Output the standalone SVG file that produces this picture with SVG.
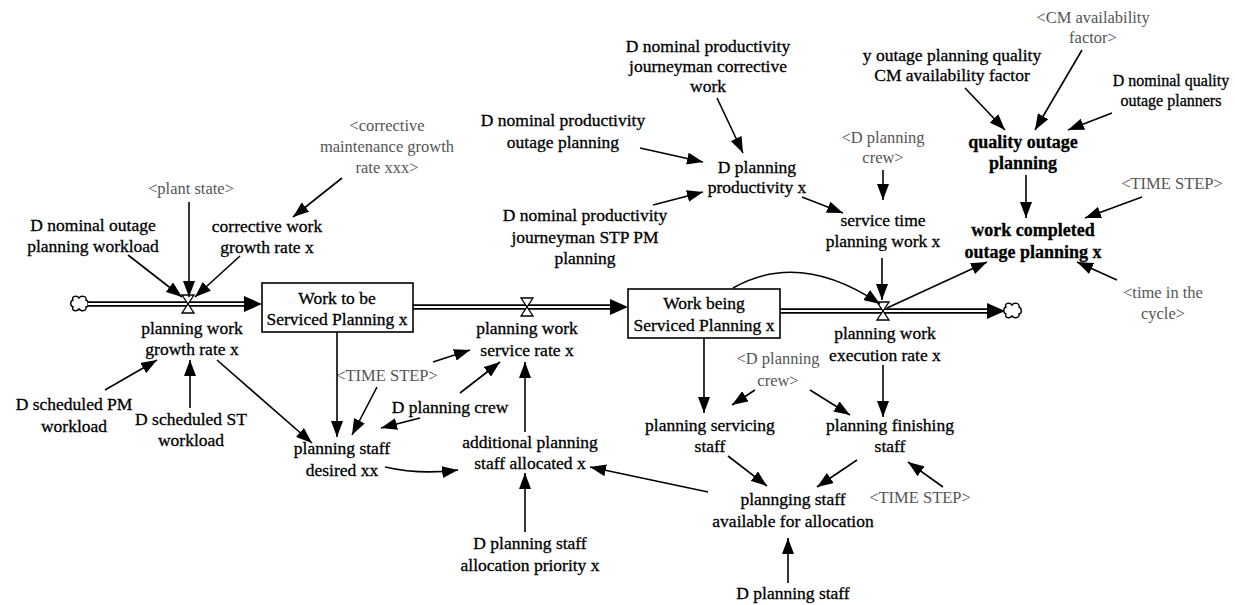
<svg xmlns="http://www.w3.org/2000/svg" width="1235" height="605" viewBox="0 0 1235 605">
  <style>
    .t { font-family: "Liberation Serif", "Times New Roman", serif; font-size: 17.5px; fill: #000; stroke: #000; stroke-width: 0.3; text-anchor: middle; }
    .b { font-weight: bold; font-size: 18px; }
    .s { fill: #555; stroke: none; font-size: 16.5px; }
    .sm { font-size: 16px; }
    .c { fill: none; stroke: #000; stroke-width: 1.6; marker-end: url(#ah); }
    .box { fill: #fff; stroke: #000; stroke-width: 1.6; }
    .pipeo { fill: none; stroke: #000; stroke-width: 5.5; }
    .pipei { fill: none; stroke: #fff; stroke-width: 2.2; }
    .valve { fill: #fff; stroke: #000; stroke-width: 1.3; }
    .cloud { fill: #fff; stroke: #000; stroke-width: 1.4; }
  </style>
  <defs>
    <marker id="ah" markerUnits="userSpaceOnUse" markerWidth="17" markerHeight="12" refX="16" refY="6" orient="auto">
      <path d="M0,0 L16,6 L0,12 z" fill="#000"/>
    </marker>
    <path id="cloudShape" d="M-7,-4 C-9,-8 -3,-9 -1,-6 C1,-9 7,-8 6,-4 C9,-3 9,3 6,3 C7,7 1,8 -1,5 C-3,8 -9,7 -7,3 C-10,2 -10,-3 -7,-4 z"/>
    <path id="valveShape" d="M-6,-9 L6,-9 L0,0 z M-6,9 L6,9 L0,0 z"/>
  </defs>

  <!-- flows (pipes, valves, clouds) -->
  <g id="flows">
    <use href="#cloudShape" class="cloud" x="80" y="304"/>
    <line class="pipeo" x1="88" y1="304" x2="248" y2="304"/>
    <line class="pipei" x1="88" y1="304" x2="250" y2="304"/>
    <path d="M244,296 L262,304 L244,312 z" fill="#000"/>
    <use href="#valveShape" class="valve" x="188" y="304"/>

    <line class="pipeo" x1="413" y1="307" x2="614" y2="307"/>
    <line class="pipei" x1="413" y1="307" x2="616" y2="307"/>
    <path d="M610,299 L628,307 L610,315 z" fill="#000"/>
    <use href="#valveShape" class="valve" x="527" y="307"/>

    <line class="pipeo" x1="780" y1="311" x2="991" y2="311"/>
    <line class="pipei" x1="780" y1="311" x2="993" y2="311"/>
    <path d="M987,303 L1005,311 L987,319 z" fill="#000"/>
    <use href="#valveShape" class="valve" x="883" y="311"/>
    <use href="#cloudShape" class="cloud" x="1013" y="311"/>
  </g>

  <!-- stocks -->
  <g id="stock-work-to-be-serviced">
    <rect class="box" x="262" y="283" width="151" height="49"/>
    <text class="t" x="337" y="304">Work to be</text>
    <text class="t" x="337" y="325">Serviced Planning x</text>
  </g>
  <g id="stock-work-being-serviced">
    <rect class="box" x="628" y="289" width="152" height="49"/>
    <text class="t" x="704" y="309">Work being</text>
    <text class="t" x="704" y="331">Serviced Planning x</text>
  </g>

  <!-- variables -->
  <g id="d-nominal-outage-planning-workload">
    <text class="t" x="93" y="231">D nominal outage</text>
    <text class="t" x="93" y="252">planning workload</text>
  </g>
  <g id="plant-state"><text class="t s" x="191" y="194">&lt;plant state&gt;</text></g>
  <g id="corrective-maintenance-growth-rate">
    <text class="t s" x="387" y="131">&lt;corrective</text>
    <text class="t s" x="387" y="152">maintenance growth</text>
    <text class="t s" x="387" y="173">rate xxx&gt;</text>
  </g>
  <g id="corrective-work-growth-rate">
    <text class="t" x="267" y="232">corrective work</text>
    <text class="t" x="267" y="253">growth rate x</text>
  </g>
  <g id="planning-work-growth-rate">
    <text class="t" x="192" y="334">planning work</text>
    <text class="t" x="192" y="355">growth rate x</text>
  </g>
  <g id="d-scheduled-pm-workload">
    <text class="t" x="74" y="410">D scheduled PM</text>
    <text class="t" x="74" y="432">workload</text>
  </g>
  <g id="d-scheduled-st-workload">
    <text class="t" x="191" y="425">D scheduled ST</text>
    <text class="t" x="191" y="446">workload</text>
  </g>
  <g id="planning-staff-desired">
    <text class="t" x="342" y="454">planning staff</text>
    <text class="t" x="342" y="476">desired xx</text>
  </g>
  <g id="time-step-1"><text class="t s" x="387" y="381">&lt;TIME STEP&gt;</text></g>
  <g id="d-planning-crew"><text class="t" x="450" y="413">D planning crew</text></g>
  <g id="planning-work-service-rate">
    <text class="t" x="527" y="334">planning work</text>
    <text class="t" x="527" y="356">service rate x</text>
  </g>
  <g id="additional-planning-staff-allocated">
    <text class="t" x="530" y="448">additional planning</text>
    <text class="t" x="530" y="469">staff allocated x</text>
  </g>
  <g id="d-planning-staff-allocation-priority">
    <text class="t" x="530" y="549">D planning staff</text>
    <text class="t" x="530" y="571">allocation priority x</text>
  </g>
  <g id="planning-staff-available">
    <text class="t" x="793" y="505">plannging staff</text>
    <text class="t" x="793" y="527">available for allocation</text>
  </g>
  <g id="d-planning-staff"><text class="t" x="793" y="599">D planning staff</text></g>
  <g id="planning-servicing-staff">
    <text class="t" x="710" y="431">planning servicing</text>
    <text class="t" x="710" y="452">staff</text>
  </g>
  <g id="planning-finishing-staff">
    <text class="t" x="890" y="431">planning finishing</text>
    <text class="t" x="890" y="452">staff</text>
  </g>
  <g id="time-step-2"><text class="t s" x="920" y="503">&lt;TIME STEP&gt;</text></g>
  <g id="d-planning-crew-2">
    <text class="t s" x="778" y="364">&lt;D planning</text>
    <text class="t s" x="778" y="386">crew&gt;</text>
  </g>
  <g id="planning-work-execution-rate">
    <text class="t" x="885" y="339">planning work</text>
    <text class="t" x="885" y="361">execution rate x</text>
  </g>
  <g id="d-nominal-productivity-journeyman-corrective">
    <text class="t" x="708" y="52">D nominal productivity</text>
    <text class="t" x="708" y="72">journeyman corrective</text>
    <text class="t" x="708" y="92">work</text>
  </g>
  <g id="d-nominal-productivity-outage-planning">
    <text class="t" x="563" y="126">D nominal productivity</text>
    <text class="t" x="563" y="148">outage planning</text>
  </g>
  <g id="d-planning-productivity">
    <text class="t" x="757" y="173">D planning</text>
    <text class="t" x="757" y="193">productivity x</text>
  </g>
  <g id="d-nominal-productivity-journeyman-stp">
    <text class="t" x="585" y="221">D nominal productivity</text>
    <text class="t" x="585" y="243">journeyman STP PM</text>
    <text class="t" x="585" y="264">planning</text>
  </g>
  <g id="d-planning-crew-3">
    <text class="t s" x="883" y="143">&lt;D planning</text>
    <text class="t s" x="883" y="163">crew&gt;</text>
  </g>
  <g id="service-time-planning-work">
    <text class="t" x="883" y="226">service time</text>
    <text class="t" x="883" y="247">planning work x</text>
  </g>
  <g id="cm-availability-factor">
    <text class="t s" x="1093" y="23">&lt;CM availability</text>
    <text class="t s" x="1093" y="43">factor&gt;</text>
  </g>
  <g id="y-outage-planning-quality">
    <text class="t" x="952" y="61">y outage planning quality</text>
    <text class="t" x="952" y="81">CM availability factor</text>
  </g>
  <g id="d-nominal-quality-outage-planners">
    <text class="t sm" x="1171" y="86">D nominal quality</text>
    <text class="t sm" x="1171" y="106">outage planners</text>
  </g>
  <g id="quality-outage-planning">
    <text class="t b" x="1023" y="148">quality outage</text>
    <text class="t b" x="1023" y="169">planning</text>
  </g>
  <g id="time-step-3"><text class="t s" x="1172" y="189">&lt;TIME STEP&gt;</text></g>
  <g id="work-completed-outage-planning">
    <text class="t b" x="1033" y="236">work completed</text>
    <text class="t b" x="1033" y="258">outage planning x</text>
  </g>
  <g id="time-in-the-cycle">
    <text class="t s" x="1163" y="298">&lt;time in the</text>
    <text class="t s" x="1163" y="319">cycle&gt;</text>
  </g>

  <!-- connectors -->
  <g id="connectors">
    <path class="c" d="M128,255 L182,297"/>
    <path class="c" d="M189,202 L189,297"/>
    <path class="c" d="M240,256 L195,297"/>
    <path class="c" d="M342,178 L293,217"/>
    <path class="c" d="M105,390 L157,360"/>
    <path class="c" d="M190,408 L190,360"/>
    <path class="c" d="M217,360 L312,443"/>
    <path class="c" d="M337,332 L337,437"/>
    <path class="c" d="M377,387 L352,435"/>
    <path class="c" d="M433,362 L470,350"/>
    <path class="c" d="M420,418 L381,428"/>
    <path class="c" d="M460,393 L500,362"/>
    <path class="c" d="M525,432 L525,362"/>
    <path class="c" d="M385,467 Q420,475 458,470"/>
    <path class="c" d="M525,532 L525,473"/>
    <path class="c" d="M708,492 L590,467"/>
    <path class="c" d="M788,583 L788,538"/>
    <path class="c" d="M728,456 L767,486"/>
    <path class="c" d="M857,460 L817,487"/>
    <path class="c" d="M943,487 L908,462"/>
    <path class="c" d="M755,390 L732,405"/>
    <path class="c" d="M810,390 L850,415"/>
    <path class="c" d="M704,338 L704,413"/>
    <path class="c" d="M883,365 L883,417"/>
    <path class="c" d="M733,288 Q800,250 880,304"/>
    <path class="c" d="M882,258 L882,300"/>
    <path class="c" d="M887,308 L987,262"/>
    <path class="c" d="M717,98 L743,153"/>
    <path class="c" d="M640,148 L703,162"/>
    <path class="c" d="M653,205 L703,192"/>
    <path class="c" d="M802,197 L843,213"/>
    <path class="c" d="M883,170 L883,200"/>
    <path class="c" d="M965,88 L1005,130"/>
    <path class="c" d="M1082,50 L1035,130"/>
    <path class="c" d="M1112,113 L1068,130"/>
    <path class="c" d="M1026,175 L1026,218"/>
    <path class="c" d="M1142,197 L1085,218"/>
    <path class="c" d="M1117,280 L1077,262"/>
  </g>
</svg>
